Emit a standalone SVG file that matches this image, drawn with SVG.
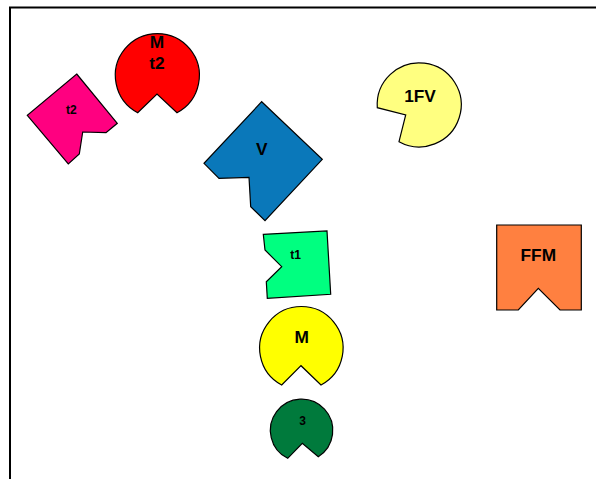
<svg xmlns="http://www.w3.org/2000/svg" width="596" height="479" viewBox="0 0 596 479">
<style>
.s{stroke:#000;stroke-width:1.2;stroke-linejoin:miter}
.L{font-family:"Liberation Sans",Arial,sans-serif;font-weight:bold;font-size:17.3px;text-anchor:middle;fill:#000}
.sm{font-size:12px}
</style>
<rect width="596" height="479" fill="#fff"/>
<path d="M10,479 V7.5 H596" fill="none" stroke="#000" stroke-width="2"/>
<g id="node-t2">
<polygon class="s" fill="#FF0080" points="76.7,74 117.3,123.3 106,132.7 82.7,132 79.3,154 68.3,164 27.3,115.3"/>
<text class="L sm" x="71.3" y="113.7">t2</text>
</g>
<g id="node-Mt2">
<path class="s" fill="#FF0000" d="M137.7,112.7 A42,42 0 1 1 177,112.7 L157,94 Z"/>
<text class="L" x="157" y="47.7">M</text>
<text class="L" x="157" y="69">t2</text>
</g>
<g id="node-V">
<polygon class="s" fill="#0A78BA" points="261.7,101.7 322.3,159.3 265,220.7 250.7,206.7 249,177.3 219,178.3 204,163.3"/>
<text class="L" x="261.7" y="155">V</text>
</g>
<g id="node-1FV">
<path class="s" fill="#FFFF80" d="M377.3,107.7 A42,42 0 1 1 399,141.7 L405.7,115 Z"/>
<text class="L" x="420" y="101.7">1FV</text>
</g>
<g id="node-t1">
<polygon class="s" fill="#00FF80" points="263.3,234.3 327,231 330.7,294.3 267.3,298.3 266.3,281.7 281.7,266.7 265,250"/>
<text class="L sm" x="295.5" y="259.3">t1</text>
</g>
<g id="node-FFM">
<polygon class="s" fill="#FF8040" points="496.7,225 581.3,225 581.3,310 560,310 538.3,288.3 518.3,310 496.7,310"/>
<text class="L" x="538.3" y="261">FFM</text>
</g>
<g id="node-M">
<path class="s" fill="#FFFF00" d="M281.7,385 A41.7,41.7 0 1 1 321,385 L301,365.7 Z"/>
<text class="L" x="301.7" y="343.3">M</text>
</g>
<g id="node-3">
<path class="s" fill="#007A3C" d="M287.7,458.3 A31.2,31.2 0 1 1 318.3,456.7 L302.3,443.3 Z"/>
<text class="L sm" x="302.5" y="425">3</text>
</g>
<g id="connectors"></g>
</svg>
